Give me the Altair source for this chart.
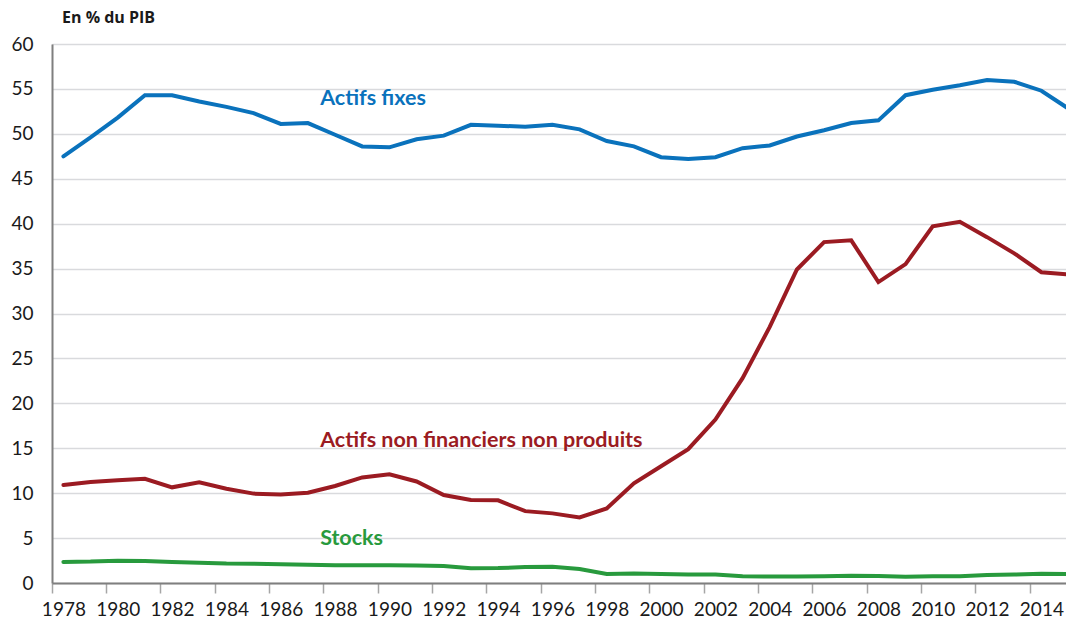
import altair as alt
import pandas as pd

years = list(range(1978, 2016))
actifs_fixes = [47.5, 49.6, 51.8, 54.3, 54.3, 53.6, 53.0, 52.3, 51.1, 51.2,
                49.9, 48.6, 48.5, 49.4, 49.8, 51.0, 50.9, 50.8, 51.0, 50.5,
                49.2, 48.6, 47.4, 47.2, 47.4, 48.4, 48.7, 49.7, 50.4, 51.2,
                51.5, 54.3, 54.9, 55.4, 56.0, 55.8, 54.8, 52.8]
actifs_nfnp = [10.9, 11.25, 11.45, 11.6, 10.65, 11.2, 10.5, 9.95, 9.85, 10.05,
               10.8, 11.75, 12.1, 11.3, 9.8, 9.25, 9.2, 8.0, 7.75, 7.3,
               8.3, 11.1, 13.0, 14.9, 18.2, 22.8, 28.5, 34.9, 37.95, 38.15,
               33.5, 35.5, 39.7, 40.2, 38.5, 36.7, 34.6, 34.35]
stocks = [2.35, 2.38, 2.48, 2.45, 2.35, 2.25, 2.16, 2.15, 2.1, 2.02,
          1.97, 1.97, 1.97, 1.95, 1.88, 1.65, 1.66, 1.77, 1.8, 1.55,
          1.0, 1.06, 1.0, 0.95, 0.95, 0.75, 0.72, 0.72, 0.75, 0.8,
          0.78, 0.7, 0.74, 0.75, 0.88, 0.95, 1.02, 1.0]

series_names = ["Actifs fixes", "Actifs non financiers non produits", "Stocks"]
series_colors = ["#0a72bc", "#9b1b22", "#289a3d"]

# annotation anchors (year, value) for the in-plot series labels
label_years = [1987.45, 1987.45, 1987.45]
label_values = [53.2, 15.15, 4.2]

x_ticks = list(range(1978, 2015, 2))
y_ticks = list(range(0, 61, 5))

rows = []
for name, vals in zip(series_names, [actifs_fixes, actifs_nfnp, stocks]):
    for yr, v in zip(years, vals):
        rows.append({"annee": yr, "valeur": v, "serie": name})
df = pd.DataFrame(rows)
lab = pd.DataFrame({"serie": series_names, "annee": label_years, "valeur": label_values})

FONT = "Lato"
color_scale = alt.Scale(domain=series_names, range=series_colors)
x_scale = alt.Scale(domain=[1977.58, 2015.2], nice=False, zero=False)
y_scale = alt.Scale(domain=[0, 60], nice=False)

lines = alt.Chart(df).mark_line(strokeWidth=4, strokeJoin="miter", strokeCap="round").encode(
    x=alt.X("annee:Q", scale=x_scale, title=None,
            axis=alt.Axis(values=x_ticks, format="d", grid=False, domain=True,
                          domainColor="#7f7f7f", domainWidth=2,
                          ticks=True, tickColor="#a6a6a6", tickSize=10, tickWidth=1.5,
                          tickOffset=-11.6, labelOffset=11.6,
                          labelPadding=7, labelFont=FONT, labelFontSize=19,
                          labelColor="#1a1a1a", labelFlush=False, labelOverlap=False)),
    y=alt.Y("valeur:Q", scale=y_scale, title=None,
            axis=alt.Axis(values=y_ticks, grid=True, gridColor="#d9dadd", gridWidth=1.5,
                          ticks=False, domain=True, domainColor="#7f7f7f", domainWidth=2,
                          labelPadding=19, labelFont=FONT, labelFontSize=19,
                          labelColor="#1a1a1a")),
    color=alt.Color("serie:N", scale=color_scale, legend=None),
    detail="serie:N",
)

labels = alt.Chart(lab).mark_text(font=FONT, fontSize=21.5, fontWeight="bold",
                                   align="left", baseline="alphabetic").encode(
    x=alt.X("annee:Q", scale=x_scale),
    y=alt.Y("valeur:Q", scale=y_scale),
    text="serie:N",
    color=alt.Color("serie:N", scale=color_scale, legend=None),
)

title = alt.Chart(pd.DataFrame({"t": ["En % du PIB"]})).mark_text(
    font="Open Sans", fontSize=16, fontWeight="bold", align="left", baseline="alphabetic",
    color="#1a1a1a").encode(text="t:N", x=alt.value(10), y=alt.value(-21))

chart = alt.layer(lines, labels, title).properties(
    width=1022, height=539,
    padding={"left": 44, "top": 36, "right": -8, "bottom": 38},
    autosize=alt.AutoSizeParams(type="none"),
).configure_view(fill="#f0f1f3", stroke=None).configure(background="white")

chart.save("out.html", embed_options={"renderer": "svg", "actions": False})
